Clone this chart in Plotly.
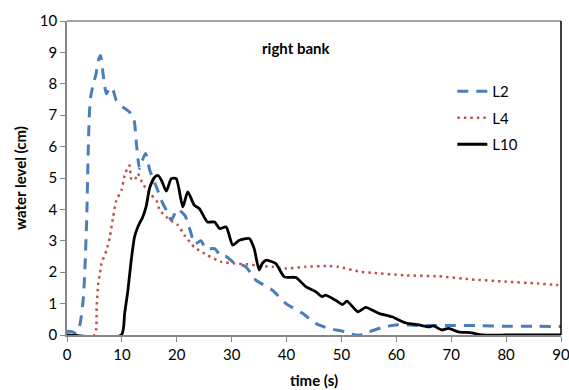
import plotly.graph_objects as go

# L2 (blue dashed)
l2_t = [0, 1, 1.8, 2.4, 3.0, 3.3, 3.6, 3.8, 4.05, 4.3, 4.8, 5.3, 5.7, 6.1, 6.5, 6.9, 7.2, 7.8, 8.4, 9.0,
        10.2, 11.4, 12.2, 12.7, 13.2, 13.6, 14.3, 15.1, 16.3, 17.2, 18.1, 19.0, 20.1, 21.5, 22.4, 23.3,
        24.4, 25.3, 26.9, 28.1, 29.0, 30.2, 31.1, 32.6, 33.5, 34.4, 37.4, 39.9, 42.9, 45.3, 47.7, 50.7,
        52.0, 53.5, 55.0, 57.4, 59.8, 65, 70, 75, 80, 85, 90]
l2_h = [0.12, 0.1, 0.03, 0.37, 1.22, 2.28, 3.76, 5.35, 6.94, 7.57, 8.0, 8.32, 8.74, 8.9, 8.42, 7.89, 7.68,
        7.89, 7.79, 7.47, 7.26, 7.1, 6.85, 6.0, 5.3, 5.5, 5.78, 5.24, 4.71, 4.29, 3.97, 3.66, 4.0, 3.8,
        3.35, 2.9, 3.0, 2.75, 2.75, 2.5, 2.5, 2.33, 2.28, 2.17, 1.96, 1.75, 1.43, 1.0, 0.69, 0.37, 0.21,
        0.1, 0.02, 0.0, 0.1, 0.24, 0.32, 0.3, 0.3, 0.3, 0.28, 0.28, 0.27]

# L4 (red dotted)
l4_t = [0, 5.0, 5.4, 5.7, 6.0, 6.3, 7.2, 7.8, 8.4, 9.0, 9.9, 10.5, 11.1, 11.4, 11.7, 12.3, 12.9, 13.8,
        15.1, 16.3, 16.9, 18.1, 19.3, 20.2, 21.4, 23.2, 25.6, 28.1, 30.5, 32.9, 35.3, 37.5, 39.9, 43.5,
        47.7, 49.5, 53.2, 55.6, 61.6, 67.7, 73.7, 79.8, 85.8, 89.5]
l4_h = [0, 0, 0.9, 1.64, 1.97, 2.28, 2.7, 3.12, 3.76, 4.29, 4.6, 5.08, 5.35, 5.4, 4.98, 4.93, 5.14, 4.82,
        4.5, 4.29, 3.97, 3.76, 3.6, 3.5, 3.18, 2.8, 2.54, 2.33, 2.28, 2.25, 2.2, 2.17, 2.12, 2.17,
        2.2, 2.17, 2.02, 1.98, 1.9, 1.87, 1.77, 1.7, 1.64, 1.59]

# L10 (black solid)
l10_t = [0, 9.9, 10.5, 11.1, 11.7, 12.3, 12.9, 13.8, 14.4, 15.1, 16.0, 16.6, 17.2, 18.1, 19.0, 19.9,
         21.1, 22.0, 23.2, 24.1, 25.6, 26.9, 27.8, 29.0, 30.2, 31.4, 33.2, 34.1, 35.0, 35.6, 36.2, 38.0,
         39.6, 41.7, 43.5, 45.3, 46.5, 47.1, 48.9, 50.2, 51.0, 53.0, 54.4, 56.8, 59.2, 61.6, 64.1, 65.9,
         66.8, 68.3, 69.5, 71.3, 73.7, 75.6, 80, 90]
l10_h = [0, 0, 0.69, 1.43, 2.38, 3.12, 3.44, 3.76, 4.08, 4.71, 5.03, 5.08, 4.93, 4.58, 4.98, 4.98,
         4.08, 4.56, 4.13, 4.03, 3.6, 3.6, 3.39, 3.44, 2.86, 3.02, 3.07, 2.75, 2.07, 2.28, 2.38, 2.28,
         1.85, 1.83, 1.54, 1.38, 1.22, 1.27, 1.11, 0.97, 1.08, 0.74, 0.88, 0.69, 0.58, 0.39, 0.32, 0.26,
         0.29, 0.16, 0.21, 0.1, 0.07, 0.0, 0.0, 0.0]

x_ticks = [0, 10, 20, 30, 40, 50, 60, 70, 80, 90]
y_ticks = [0, 1, 2, 3, 4, 5, 6, 7, 8, 9, 10]

FONT = "Lato"

fig = go.Figure()
fig.add_trace(go.Scatter(x=l2_t, y=l2_h, mode="lines", name="L2", legendgroup="a",
                         line=dict(color="#4A7EBB", width=3, dash="11px,8px", shape="spline", smoothing=0.6)))
fig.add_trace(go.Scatter(x=l4_t, y=l4_h, mode="lines", name="L4", legendgroup="b",
                         line=dict(color="#C0504D", width=2.5, dash="2.5px,4px", shape="spline", smoothing=0.6)))
fig.add_trace(go.Scatter(x=l10_t, y=l10_h, mode="lines", name="L10", legendgroup="c",
                         line=dict(color="#000000", width=2.8, shape="spline", smoothing=0.6)))

fig.update_layout(
    width=569, height=390,
    margin=dict(l=67, r=8, t=21, b=55),
    paper_bgcolor="white", plot_bgcolor="white",
    font=dict(family=FONT, size=15, color="#000000"),
    showlegend=True,
    legend=dict(x=0.78, y=0.828, xanchor="left", yanchor="top", bgcolor="rgba(0,0,0,0)",
                font=dict(family=FONT, size=15), tracegroupgap=4, traceorder="grouped"),
    xaxis=dict(range=[0, 90], tickvals=x_ticks, showgrid=False, zeroline=False, automargin=False,
               showline=True, linecolor="#868686", linewidth=1.5, ticks="outside", ticklen=5,
               tickcolor="#868686", tickfont=dict(size=15), ticklabeloverflow="allow",
               title=dict(text="<b>time (s)</b>", font=dict(size=15), standoff=14)),
    yaxis=dict(range=[0, 10], tickvals=y_ticks, showgrid=False, zeroline=False, automargin=False,
               showline=True, linecolor="#868686", linewidth=1.5, ticks="outside", ticklen=5,
               tickcolor="#868686", tickfont=dict(size=15),
               title=dict(text="<b>water level (cm)</b>", font=dict(size=15), standoff=10)),
    annotations=[dict(text="<b>right bank</b>", x=0.463, y=0.915, xref="paper", yref="paper",
                      showarrow=False, font=dict(size=15), xanchor="center", yanchor="middle")],
    shapes=[dict(type="line", xref="paper", yref="paper", x0=0, x1=1, y0=1, y1=1,
                 line=dict(color="#868686", width=1.5)),
            dict(type="line", xref="paper", yref="paper", x0=1, x1=1, y0=0, y1=1,
                 line=dict(color="#000000", width=1.5))],
)

fig.write_html("out.html")
